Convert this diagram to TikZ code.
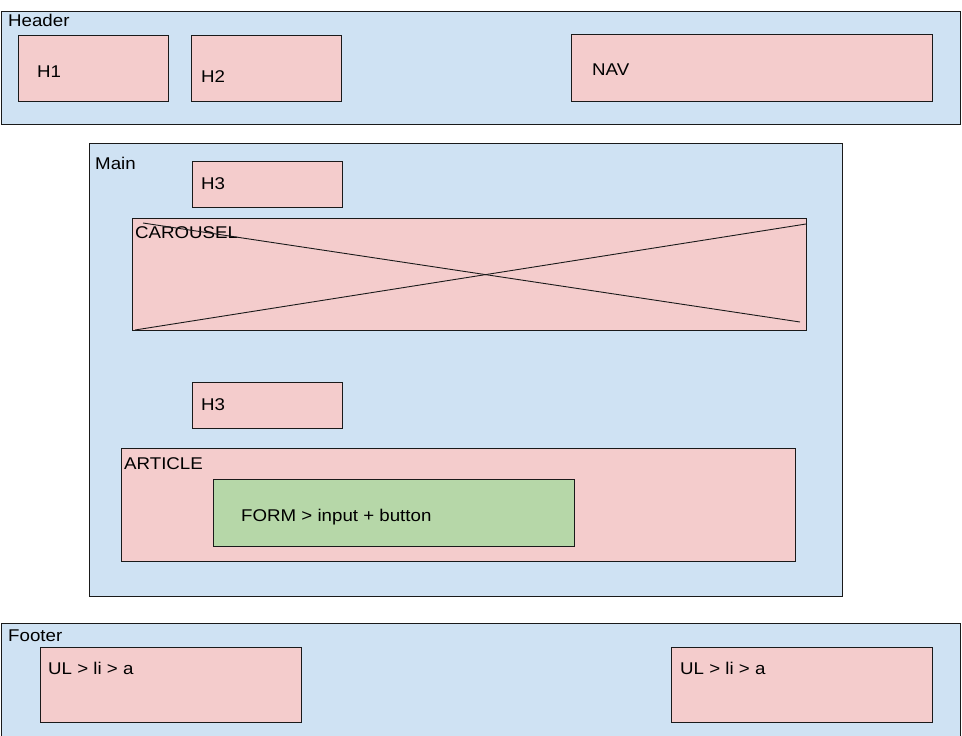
\documentclass[tikz,border=0pt]{standalone}
\usepackage{fontspec}
\setmainfont{Liberation Sans}[FakeStretch=1.1]
\definecolor{bluebg}{HTML}{CFE2F3}
\definecolor{pinkbg}{HTML}{F4CCCC}
\definecolor{greenbg}{HTML}{B6D7A8}
\definecolor{edge}{HTML}{1A1A1A}
\tikzset{
  box/.style={draw=edge, line width=0.9pt, anchor=north west, inner sep=0pt, outer sep=0pt},
  bluebox/.style={box, fill=bluebg},
  pinkbox/.style={box, fill=pinkbg},
  greenbox/.style={box, fill=greenbg},
  lbl/.style={anchor=base west, inner sep=0pt, text=black, font=\fontsize{17}{20}\selectfont},
  crossline/.style={draw=edge, line width=0.9pt}
}
\begin{document}
\begin{tikzpicture}[x=1pt, y=-1pt]
\useasboundingbox (0,0) rectangle (962,736);
\clip (0,0) rectangle (962,736);
\fill[white] (0,0) rectangle (962,736);
% Header
\node[bluebox, minimum width=959pt, minimum height=113pt] (header) at (1,11) {};
\node[lbl] (headerl) at (8,27) {Header};
\node[pinkbox, minimum width=150pt, minimum height=66pt] (h1) at (18,35) {};
\node[lbl] (h1l) at (37,77.5) {H1};
\node[pinkbox, minimum width=150pt, minimum height=66pt] (h2) at (191,35) {};
\node[lbl] (h2l) at (201,82) {H2};
\node[pinkbox, minimum width=361pt, minimum height=67pt] (nav) at (571,34) {};
\node[lbl] (navl) at (592,75) {NAV};
% Main
\node[bluebox, minimum width=753pt, minimum height=453pt] (main) at (89,143) {};
\node[lbl] (mainl) at (95,169) {Main};
\node[pinkbox, minimum width=150pt, minimum height=46pt] (h3a) at (192,161) {};
\node[lbl] (h3al) at (201,189) {H3};
\node[pinkbox, minimum width=674pt, minimum height=112pt] (carousel) at (132,218) {};
\node[lbl] (carousell) at (135,238) {CAROUSEL};
\coordinate (c1) at (143,223);
\coordinate (c2) at (800,322);
\coordinate (c3) at (135,330);
\coordinate (c4) at (806,224);
\draw[crossline] (c1) -- (c2);
\draw[crossline] (c3) -- (c4);
\node[pinkbox, minimum width=150pt, minimum height=46pt] (h3b) at (192,382) {};
\node[lbl] (h3bl) at (201,410) {H3};
\node[pinkbox, minimum width=674pt, minimum height=113pt] (article) at (121,448) {};
\node[lbl] (articlel) at (124,469) {ARTICLE};
\node[greenbox, minimum width=361pt, minimum height=67pt] (form) at (213,479) {};
\node[lbl] (forml) at (241,521.5) {FORM > input + button};
% Footer
\node[bluebox, minimum width=959pt, minimum height=130pt] (footer) at (1,623) {};
\node[lbl] (footerl) at (8,641.5) {Footer};
\node[pinkbox, minimum width=261pt, minimum height=75pt] (ul1) at (40,647) {};
\node[lbl] (ul1l) at (48,674) {UL > li > a};
\node[pinkbox, minimum width=261pt, minimum height=75pt] (ul2) at (671,647) {};
\node[lbl] (ul2l) at (680,674) {UL > li > a};
\end{tikzpicture}
\end{document}
